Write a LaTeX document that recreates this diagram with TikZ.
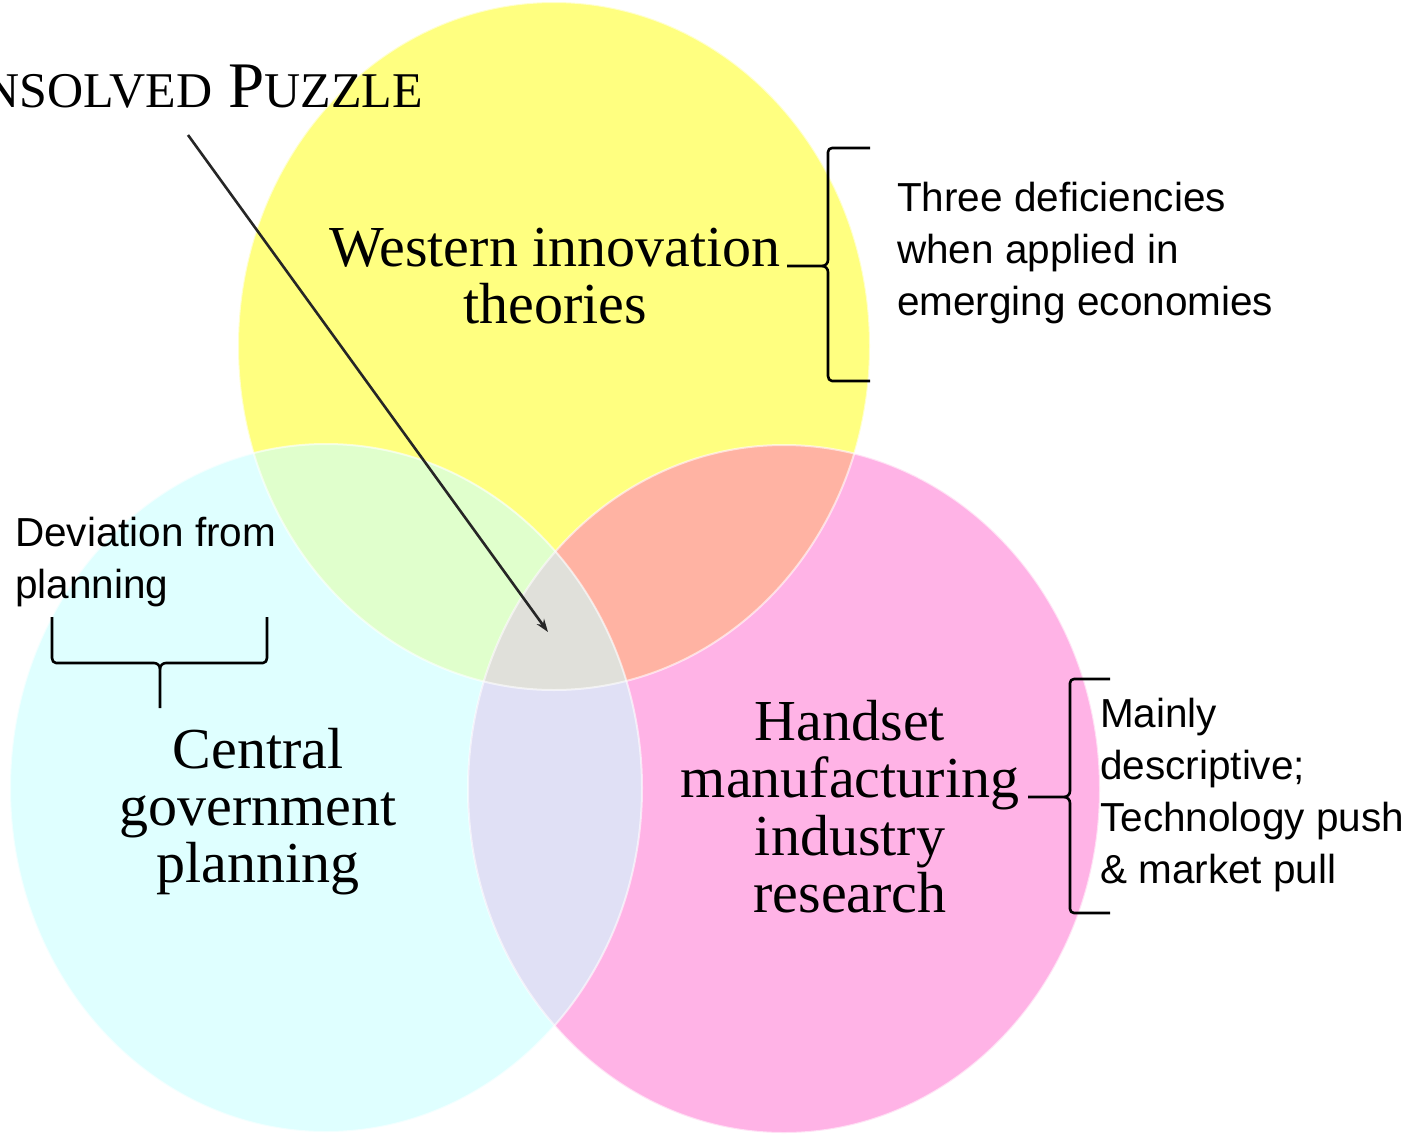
\documentclass[tikz,border=0pt]{standalone}
\usepackage{fontspec}
\setmainfont{Liberation Serif}
\newfontfamily\sanslab{Liberation Sans}
\usetikzlibrary{arrows.meta}
\definecolor{ycol}{HTML}{FFFF80}
\definecolor{ccol}{HTML}{DFFFFF}
\definecolor{pcol}{HTML}{FFB3E6}
\definecolor{gcol}{HTML}{E0FFCC}
\definecolor{scol}{HTML}{FFB3A3}
\definecolor{lcol}{HTML}{E0E0F5}
\definecolor{grcol}{HTML}{E0E0DA}
\newcommand\tabl[2]{\begin{tabular}[t]{@{}#1@{}}#2\end{tabular}}
\tikzset{
  serifbig/.style={inner sep=0pt, font=\fontsize{58}{57}\selectfont, text=black},
  sanslbl/.style={inner sep=0pt, font=\sanslab\fontsize{40.5}{52}\selectfont, text=black},
  bracepath/.style={draw=black, line width=2.6pt, line join=round},
  rim/.style={draw=white, line width=2pt, opacity=0.6},
  Yell/.style={x radius=316pt, y radius=344pt},
}
\begin{document}
\begin{tikzpicture}[x=1pt,y=-1pt]
\useasboundingbox (0,0) rectangle (1410,1135);
\fill[white] (0,0) rectangle (1410,1135);
\coordinate (Y) at (554,346);
\coordinate (C) at (326,788);
\coordinate (P) at (784,789);
% base discs
\fill[ycol] (Y) ellipse [Yell];
\fill[ccol] (C) ellipse [Yell];
\fill[pcol] (P) ellipse [Yell];
% overlaps
\begin{scope}\clip (C) ellipse [Yell]; \fill[gcol] (Y) ellipse [Yell];\end{scope}
\begin{scope}\clip (P) ellipse [Yell]; \fill[scol] (Y) ellipse [Yell];\end{scope}
\begin{scope}\clip (C) ellipse [Yell]; \fill[lcol] (P) ellipse [Yell];\end{scope}
\begin{scope}\clip (C) ellipse [Yell]; \clip (P) ellipse [Yell]; \fill[grcol] (Y) ellipse [Yell];\end{scope}
% faint rims
\draw[rim] (Y) ellipse [Yell];
\draw[rim] (C) ellipse [Yell];
\draw[rim] (P) ellipse [Yell];

% title (cut at the left edge, as in the reference)
\node[inner sep=0pt, anchor=base east] (title) at (423,107)
  {{\fontsize{65}{65}\selectfont U}{\fontsize{50}{50}\selectfont NSOLVED}\hspace{16pt}{\fontsize{65}{65}\selectfont P}{\fontsize{50}{50}\selectfont UZZLE}};

% arrow
\coordinate (arrS) at (188,135);
\coordinate (arrE) at (548,632);
\draw[line width=2.6pt, draw=black!85, -{Stealth[length=13pt,width=9pt]}] (arrS) -- (arrE);

% main labels
\node[serifbig, anchor=base] (west) at (555,266) {\tabl{c}{Western innovation\\theories}};
\node[serifbig, anchor=base] (hand) at (850,740) {\tabl{c}{Handset\\manufacturing\\industry\\research}};
\node[serifbig, anchor=base] (cent) at (258,768) {\tabl{c}{Central\\government\\planning}};

% side labels
\node[sanslbl, anchor=base west] (three) at (897,211) {\tabl{l}{Three deficiencies\\when applied in\\emerging economies}};
\node[sanslbl, anchor=base west] (dev) at (15,546) {\tabl{l}{Deviation from\\planning}};
\node[sanslbl, anchor=base west] (mainly) at (1100,727) {\tabl{l}{Mainly\\descriptive;\\Technology push\\\& market pull}};

% braces
\draw[bracepath] (870,148) -- (832,148) to[out=180,in=90] (828,152) -- (828,260)
  to[out=-90,in=0] (822,266) -- (787,266);
\draw[bracepath] (822,266) to[out=0,in=90] (828,272) -- (828,376) to[out=-90,in=180] (832,381) -- (870,381);

\draw[bracepath] (1110,679) -- (1074,679) to[out=180,in=90] (1070,683) -- (1070,791)
  to[out=-90,in=0] (1064,797) -- (1028,797);
\draw[bracepath] (1064,797) to[out=0,in=90] (1070,803) -- (1070,909) to[out=-90,in=180] (1074,913) -- (1110,913);

\draw[bracepath] (52,617) -- (52,658) to[out=-90,in=180] (56,663) -- (154,663)
  to[out=0,in=90] (160,669) -- (160,708);
\draw[bracepath] (160,669) to[out=90,in=180] (166,663) -- (263,663) to[out=0,in=-90] (267,658) -- (267,617);
\end{tikzpicture}
\end{document}
